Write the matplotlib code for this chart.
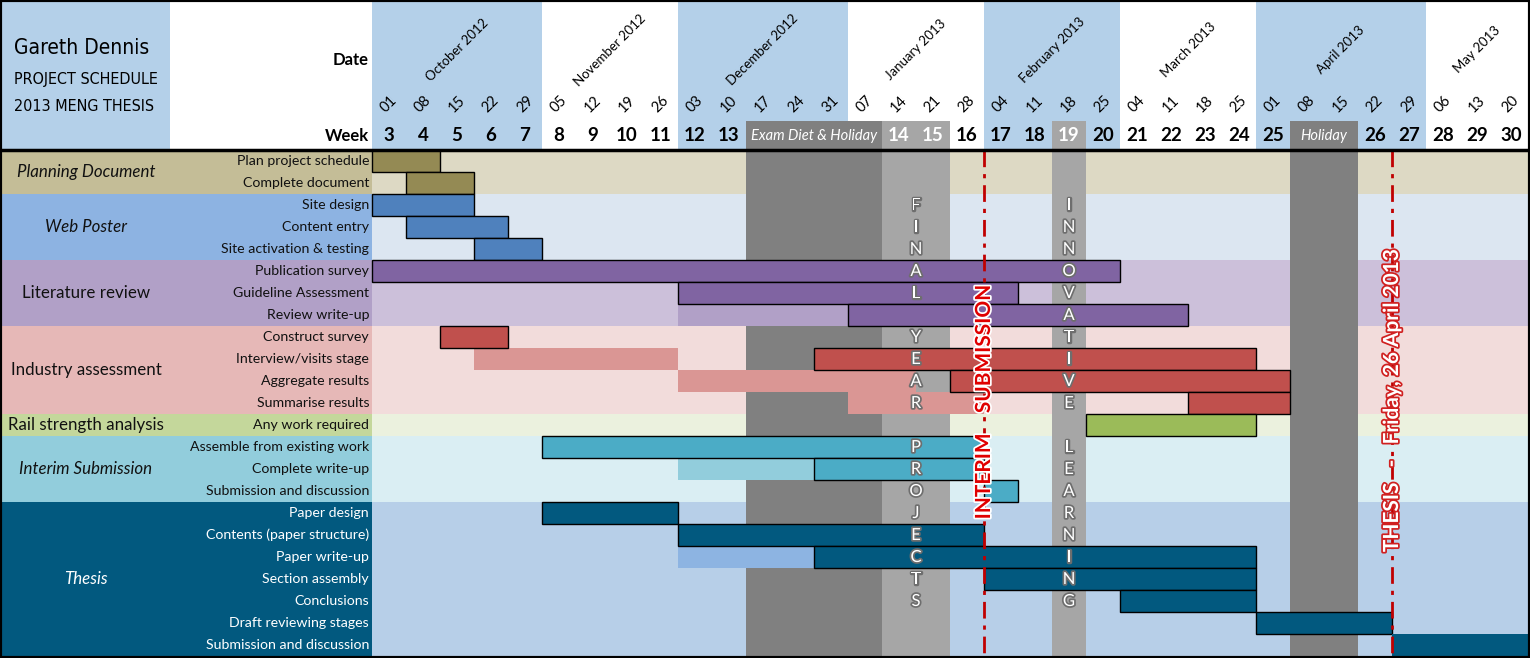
import matplotlib
matplotlib.use('Agg')
import matplotlib.pyplot as plt
from matplotlib.patches import Rectangle
import matplotlib.patheffects as pe

plt.rcParams['font.family'] = ['Lato', 'DejaVu Sans']

# ---------------- data ----------------
months = ['October 2012', 'November 2012', 'December 2012', 'January 2013',
          'February 2013', 'March 2013', 'April 2013', 'May 2013']
month_cols = [5, 4, 5, 4, 4, 4, 5, 3]
month_shaded = [True, False, True, False, True, False, True, False]
dates = ['01', '08', '15', '22', '29', '05', '12', '19', '26', '03', '10', '17',
         '24', '31', '07', '14', '21', '28', '04', '11', '18', '25', '04', '11',
         '18', '25', '01', '08', '15', '22', '29', '06', '13', '20']
weeks = ['3', '4', '5', '6', '7', '8', '9', '10', '11', '12', '13', '', '', '', '',
         '14', '15', '16', '17', '18', '19', '20', '21', '22', '23', '24', '25',
         '', '', '26', '27', '28', '29', '30']

dark_block_start = [11, 27]
dark_block_len = [4, 2]
dark_block_label = ['Exam Diet & Holiday', 'Holiday']
light_block_start = [15, 20]
light_block_len = [2, 1]
light_block_word = ['FINAL YEAR PROJECTS', 'INNOVATIVE LEARNING']

groups = ['Planning Document', 'Web Poster', 'Literature review', 'Industry assessment',
          'Rail strength analysis', 'Interim Submission', 'Thesis']
group_sizes = [2, 3, 3, 4, 1, 3, 7]
group_italic = [True, True, False, False, False, True, True]

tasks = ['Plan project schedule', 'Complete document',
         'Site design', 'Content entry', 'Site activation & testing',
         'Publication survey', 'Guideline Assessment', 'Review write-up',
         'Construct survey', 'Interview/visits stage', 'Aggregate results', 'Summarise results',
         'Any work required',
         'Assemble from existing work', 'Complete write-up', 'Submission and discussion',
         'Paper design', 'Contents (paper structure)', 'Paper write-up', 'Section assembly',
         'Conclusions', 'Draft reviewing stages', 'Submission and discussion']
bar_start = [0, 1, 0, 1, 3, 0, 9, 14, 2, 13, 17, 24, 21, 5, 13, 18, 5, 9, 13, 18, 22, 26, 30]
bar_len = [2, 2, 3, 3, 2, 22, 10, 10, 2, 13, 10, 3, 5, 13, 5, 1, 4, 9, 13, 8, 4, 4, 4]
bar_outlined = [True] * 22 + [False]
light_start = [None, None, None, None, None, None, None, 9, None, 3, 9, 14, None,
               None, 9, None, None, None, 9, None, None, None, None]
light_len = [None, None, None, None, None, None, None, 5, None, 6, 7, 4, None,
             None, 4, None, None, None, 4, None, None, None, None]

milestone_col = [18, 30]
milestone_text = ['INTERIM    SUBMISSION', 'THESIS   -   Friday, 26 April 2013']

# ---------------- style ----------------
group_left = ['#C4BD97', '#8DB3E2', '#B1A0C7', '#E6B8B7', '#C4D79B', '#92CDDC', '#02597F']
group_bg = ['#DDD9C4', '#DCE6F1', '#CCC0DA', '#F2DCDB', '#EBF1DE', '#DAEEF3', '#B7CFE8']
group_bar = ['#948A54', '#4F81BD', '#8064A2', '#C0504D', '#9BBB59', '#4BACC6', '#02597F']
group_light = [None, None, '#B1A0C7', '#DA9694', None, '#92CDDC', '#8DB4E2']
group_text = ['#111111'] * 6 + ['white']
header_blue = '#B4D0E9'
dark_gray = '#808080'
light_gray = '#A6A6A6'
narrow = ['Liberation Sans Narrow', 'DejaVu Sans']

W, H = 1530, 658
COLW, ROWH = 34.0, 22.0
X0, Y0 = 372.0, 150.0


def px_x(p):
    return (p - X0) / COLW


def px_y(p):
    return (p - Y0) / ROWH


fig = plt.figure(figsize=(W / 100, H / 100), dpi=100)
ax = fig.add_axes([0, 0, 1, 1])
ax.set_xlim(px_x(0), px_x(W))
ax.set_ylim(px_y(H), px_y(0))
ax.axis('off')

ncols = len(dates)
nrows = len(tasks)
left = px_x(0)
top = px_y(0)

# ---------------- header ----------------
ax.add_patch(Rectangle((left, top), px_x(170) - left, -top, color=header_blue, lw=0, zorder=1))
c = 0
for m, n, sh in zip(months, month_cols, month_shaded):
    if sh:
        ax.add_patch(Rectangle((c, top), n, -top, color=header_blue, lw=0, zorder=1))
    ax.text(c + n / 2, px_y(50), m, rotation=45, ha='center', va='center',
            fontsize=9.5, color='black', zorder=5)
    c += n
for i, d in enumerate(dates):
    ax.text(i + 0.5, px_y(104), d, rotation=45, ha='center', va='center',
            fontsize=10.5, color='black', zorder=5)
for i, w in enumerate(weeks):
    if not w:
        continue
    in_light = any(s <= i < s + n for s, n in zip(light_block_start, light_block_len))
    ax.text(i + 0.5, px_y(136), w, ha='center', va='center', fontsize=13.5,
            fontweight='bold', color='white' if in_light else 'black', zorder=5)

ax.text(px_x(369), px_y(60), 'Date', ha='right', va='center', fontsize=12,
        fontweight='bold', zorder=5)
ax.text(px_x(369), px_y(136), 'Week', ha='right', va='center', fontsize=12,
        fontweight='bold', zorder=5)
ax.text(px_x(14), px_y(48), 'Gareth Dennis', ha='left', va='center', fontsize=15,
        family=narrow, fontstretch='condensed', color='black', zorder=5)
ax.text(px_x(14), px_y(80), 'PROJECT SCHEDULE', ha='left', va='center', fontsize=11.5,
        family=narrow, fontstretch='condensed', color='black', zorder=5)
ax.text(px_x(14), px_y(107), '2013 MENG THESIS', ha='left', va='center', fontsize=11.5,
        family=narrow, fontstretch='condensed', color='black', zorder=5)

# gray blocks (header part + body columns)
for s, n, lab in zip(dark_block_start, dark_block_len, dark_block_label):
    ax.add_patch(Rectangle((s, px_y(121)), n, nrows - px_y(121), color=dark_gray, lw=0, zorder=2))
    ax.text(s + n / 2, px_y(136), lab, ha='center', va='center', fontsize=10.5,
            style='italic', color='white', zorder=5)
for s, n in zip(light_block_start, light_block_len):
    ax.add_patch(Rectangle((s, px_y(121)), n, nrows - px_y(121), color=light_gray, lw=0, zorder=2))

# ---------------- body ----------------
r = 0
for g, (name, size) in enumerate(zip(groups, group_sizes)):
    ax.add_patch(Rectangle((left, r), -left, size, color=group_left[g], lw=0, zorder=1))
    ax.add_patch(Rectangle((0, r), ncols, size, color=group_bg[g], lw=0, zorder=1))
    ax.text(px_x(86), r + size / 2, name, ha='center', va='center', fontsize=12.2,
            style='italic' if group_italic[g] else 'normal', color=group_text[g], zorder=5)
    for k in range(size):
        t = r + k
        ax.text(px_x(369), t + 0.5, tasks[t], ha='right', va='center', fontsize=10.2,
                color=group_text[g], zorder=5)
        if light_start[t] is not None:
            ax.barh(t + 0.5, light_len[t], left=light_start[t], height=1.0,
                    color=group_light[g], lw=0, zorder=3)
        ax.barh(t + 0.5, bar_len[t], left=bar_start[t], height=1.0, color=group_bar[g],
                edgecolor='black' if bar_outlined[t] else 'none',
                lw=1.0 if bar_outlined[t] else 0, zorder=3.5)
    r += size

# vertical letters
for s, n, word in zip(light_block_start, light_block_len, light_block_word):
    for k, ch in enumerate(word):
        if ch == ' ':
            continue
        ax.text(s + n / 2, 2 + k + 0.5, ch, ha='center', va='center', fontsize=12,
                color='white', zorder=6,
                path_effects=[pe.withStroke(linewidth=2.5, foreground='#6E6E6E')])

# milestones
ax.vlines(milestone_col, 0, nrows, colors='#C00000', lw=2,
          linestyles=[(0, (6, 2.5, 1.5, 2.5))], zorder=7)
ax.text(milestone_col[0], px_y(402), milestone_text[0], rotation=90, ha='center',
        va='center', fontsize=15, fontweight='bold', color='#E00000', zorder=8,
        path_effects=[pe.withStroke(linewidth=2.5, foreground='white')])
ax.text(milestone_col[1], px_y(400), milestone_text[1], rotation=90, ha='center',
        va='center', fontsize=15, fontweight='bold', color='white', zorder=8,
        path_effects=[pe.withStroke(linewidth=2.5, foreground='#D02020')])

# frame lines
ax.plot([left, px_x(W)], [0, 0], color='black', lw=2.5, zorder=9)
ax.add_patch(Rectangle((left, top), px_x(W) - left, px_y(H) - top, fill=False,
                       edgecolor='black', lw=3, zorder=10))

fig.savefig('out.png', dpi=100)
